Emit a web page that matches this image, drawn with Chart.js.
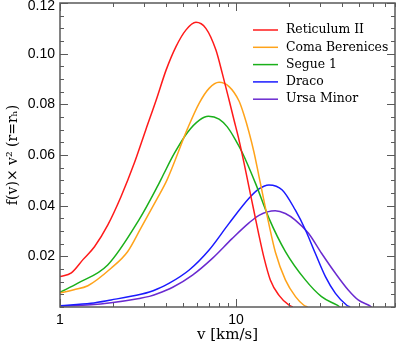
<!DOCTYPE html>
<html>
<head>
<meta charset="utf-8">
<script src="https://cdn.jsdelivr.net/npm/chart.js@4"></script>
<style>
  html, body { margin: 0; padding: 0; background: #fff; }
  #wrap { width: 400px; height: 344px; }
</style>
</head>
<body>
<div id="wrap"><canvas id="c" width="400" height="344"></canvas></div>
<script>
// values: v [km/s] and f(v) v^2 per galaxy
const retV = [1.0, 1.16, 1.35, 1.57, 1.87, 2.22, 2.64, 3.07, 3.52, 4.01, 4.56, 5.20, 5.92, 6.74, 7.68, 8.37, 9.13, 9.74, 10.4, 11.1, 11.84, 12.64, 13.49, 14.39, 15.66, 17.5, 19.93, 21.0];
const retF = [0.0120, 0.0135, 0.0187, 0.0238, 0.0324, 0.0435, 0.0567, 0.0699, 0.0817, 0.0936, 0.1028, 0.1094, 0.1124, 0.1100, 0.1015, 0.0920, 0.0817, 0.0738, 0.0659, 0.0569, 0.0474, 0.0379, 0.0284, 0.0197, 0.0107, 0.0047, 0.0008, 0.0];

const comV = [1.0, 1.2, 1.44, 1.95, 2.42, 2.88, 3.57, 4.05, 5.31, 6.17, 7.03, 8.01, 9.13, 10.4, 11.1, 11.84, 12.64, 13.49, 14.39, 15.36, 16.72, 19.07, 21.77, 24.2, 25.5];
const comF = [0.0055, 0.0068, 0.0084, 0.0153, 0.0218, 0.0311, 0.0429, 0.0501, 0.0705, 0.0804, 0.0863, 0.0887, 0.0870, 0.0813, 0.0758, 0.0691, 0.0612, 0.0517, 0.0422, 0.0328, 0.0217, 0.0107, 0.0041, 0.0008, 0.0];

const segV = [1.0, 1.264, 1.866, 2.82, 3.57, 3.85, 4.46, 5.31, 6.17, 6.97, 8.01, 8.92, 9.87, 10.88, 12.94, 15.37, 19.08, 24.76, 30.6, 37.3, 39.0];
const segF = [0.0058, 0.0094, 0.0166, 0.0346, 0.0475, 0.0520, 0.0606, 0.0690, 0.0737, 0.0753, 0.0742, 0.0711, 0.0663, 0.0608, 0.0486, 0.0351, 0.0219, 0.0107, 0.0041, 0.0008, 0.0];

const draV = [1.0, 1.5, 1.95, 2.88, 3.22, 3.57, 4.18, 5.42, 7.03, 9.13, 11.85, 13.5, 15.37, 18.3, 21.7, 24.8, 28.2, 32.2, 36.7, 42.4, 44.5];
const draF = [0.0005, 0.0015, 0.0028, 0.0050, 0.0059, 0.0071, 0.0094, 0.0146, 0.0225, 0.0330, 0.0429, 0.0466, 0.0482, 0.0462, 0.0383, 0.0304, 0.0212, 0.0120, 0.0054, 0.0008, 0.0];

const umiV = [1.0, 1.5, 1.95, 2.82, 3.22, 3.57, 4.37, 5.66, 7.34, 9.53, 11.85, 13.5, 16.7, 19.07, 21.7, 25.8, 30.6, 36.7, 43.4, 49.4, 56.4, 59.0];
const umiF = [0.0004, 0.0009, 0.0017, 0.0034, 0.0042, 0.0052, 0.0078, 0.0126, 0.0192, 0.0271, 0.0332, 0.0362, 0.0380, 0.0369, 0.0343, 0.0291, 0.0212, 0.0133, 0.0067, 0.0028, 0.0008, 0.0];

const names = ['Reticulum II', 'Coma Berenices', 'Segue 1', 'Draco', 'Ursa Minor'];
const colors = ['#ff1a1a', '#ffa31a', '#1ab01a', '#1a1aff', '#6a2ad0'];
const seriesV = [retV, comV, segV, draV, umiV];
const seriesF = [retF, comF, segF, draF, umiF];

const xTicks = [1, 2, 3, 4, 5, 6, 7, 8, 9, 10, 20, 30, 40, 50, 60, 70, 80];
const xLabels = [1, 10];
const yLabels = [0.02, 0.04, 0.06, 0.08, 0.10, 0.12];

const AXIS = '#5a5a5a';
const SERIF = '"DejaVu Serif", serif';
const isYLabel = v => yLabels.some(l => Math.abs(l - v) < 1e-6);

// IDL-style frame with inward ticks on all four sides
const frame = {
  id: 'frame',
  afterDatasetsDraw(chart) {
    const { ctx, chartArea: a } = chart;
    const xs = chart.scales.x, ys = chart.scales.y;
    ctx.save();
    ctx.strokeStyle = AXIS;
    ctx.lineWidth = 1.5;
    ctx.strokeRect(a.left, a.top, a.right - a.left, a.bottom - a.top);
    ctx.lineWidth = 1;
    ctx.beginPath();
    for (const t of xs.ticks) {
      const p = Math.round(xs.getPixelForValue(t.value)) + 0.5;
      const len = xLabels.includes(t.value) ? 8 : 4;
      ctx.moveTo(p, a.bottom); ctx.lineTo(p, a.bottom - len);
      ctx.moveTo(p, a.top); ctx.lineTo(p, a.top + len);
    }
    for (const t of ys.ticks) {
      const p = Math.round(ys.getPixelForValue(t.value)) + 0.5;
      const len = isYLabel(t.value) ? 8 : 4;
      ctx.moveTo(a.left, p); ctx.lineTo(a.left + len, p);
      ctx.moveTo(a.right, p); ctx.lineTo(a.right - len, p);
    }
    ctx.stroke();
    ctx.restore();
  }
};

const legendBox = {
  id: 'legendBox',
  afterDraw(chart) {
    const { ctx } = chart;
    ctx.save();
    ctx.font = '12.4px ' + SERIF;
    ctx.textBaseline = 'middle';
    ctx.fillStyle = '#000';
    chart.data.datasets.forEach((ds, i) => {
      const y = 30 + i * 17.3;
      ctx.strokeStyle = ds.borderColor;
      ctx.lineWidth = 1.5;
      ctx.beginPath();
      ctx.moveTo(253, y); ctx.lineTo(278, y);
      ctx.stroke();
      ctx.fillText(ds.label, 286, y);
    });
    ctx.restore();
  }
};

new Chart(document.getElementById('c'), {
  type: 'line',
  data: {
    datasets: names.map((n, i) => ({
      label: n,
      data: seriesV[i].map((v, j) => ({ x: v, y: seriesF[i][j] })),
      borderColor: colors[i],
      borderWidth: 1.5,
      pointRadius: 0,
      fill: false,
      cubicInterpolationMode: 'monotone',
    })),
  },
  options: {
    responsive: false,
    animation: false,
    devicePixelRatio: 1,
    layout: { padding: { top: 3, right: 5, left: 0, bottom: 0 } },
    plugins: { legend: { display: false }, tooltip: { enabled: false } },
    scales: {
      x: {
        type: 'logarithmic',
        min: 1, max: 80,
        border: { display: false },
        grid: { display: false, drawTicks: false },
        afterBuildTicks: s => { s.ticks = xTicks.map(v => ({ value: v })); },
        afterFit: s => { s.height = 37; s.paddingLeft = 0; s.paddingRight = 0; },
        ticks: {
          autoSkip: false, maxRotation: 0, padding: 5,
          color: '#000',
          font: { family: '"Liberation Sans", Arial, sans-serif', size: 14 },
          callback: v => xLabels.includes(v) ? String(v) : '',
        },
        title: {
          display: true, text: 'v [km/s]', color: '#000',
          font: { family: SERIF, size: 15 },
          padding: { top: 0, bottom: 0 },
        },
      },
      y: {
        min: 0, max: 0.12,
        border: { display: false },
        grid: { display: false, drawTicks: false },
        afterFit: s => { s.width = 60; s.paddingTop = 0; s.paddingBottom = 0; },
        ticks: {
          stepSize: 0.005, autoSkip: false, padding: 5,
          color: '#000',
          font: { family: '"Liberation Sans", Arial, sans-serif', size: 14, lineHeight: 0.5 },
          // the top label sits just below the frame, as in the original
          callback: v => !isYLabel(v) ? '' : (v > 0.119 ? ['', v.toFixed(2)] : v.toFixed(2)),
        },
        title: {
          display: true, text: 'f(v)× v² (r=rₕ)', color: '#000',
          font: { family: SERIF, size: 14 },
          padding: { top: 5, bottom: 0 },
        },
      },
    },
  },
  plugins: [frame, legendBox],
});
</script>
</body>
</html>
